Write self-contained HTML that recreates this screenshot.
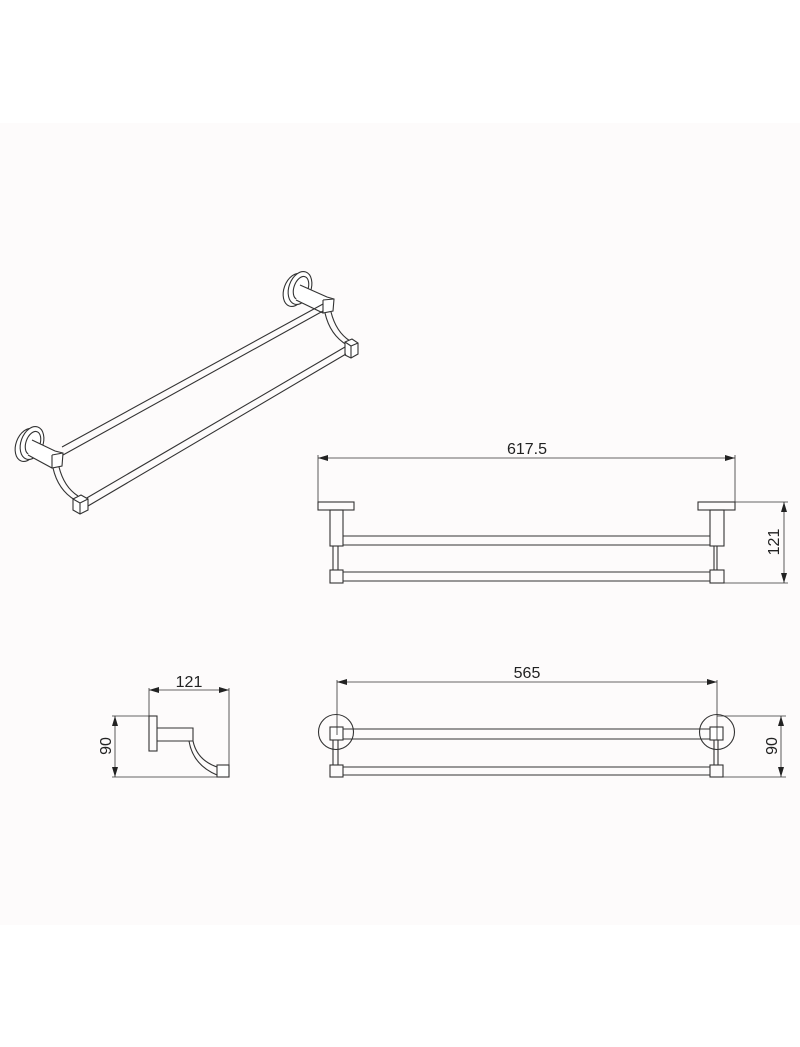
<!DOCTYPE html>
<html><head><meta charset="utf-8"><style>
html,body{margin:0;padding:0;background:#fff;}
svg{display:block;}
text{font-family:"Liberation Sans",sans-serif;font-size:16px;fill:#222;}
</style></head><body>
<svg width="800" height="1047" viewBox="0 0 800 1047" xmlns="http://www.w3.org/2000/svg">
<defs>
<marker id="a" viewBox="0 0 10 6" refX="10" refY="3" markerWidth="10" markerHeight="6" orient="auto-start-reverse" markerUnits="userSpaceOnUse"><path d="M0,0 L10,3 L0,6z" fill="#222"/></marker>
</defs>
<rect x="0" y="123" width="800" height="802" fill="#fdfbfb"/>
<g fill="none" stroke="#333" stroke-width="1.1">
<!-- ISO VIEW -->
<ellipse cx="295" cy="290" rx="11" ry="17" transform="rotate(20 295 290)" fill="#fff"/>
<ellipse cx="300" cy="288" rx="11" ry="17" transform="rotate(20 300 288)" fill="#fff"/>
<ellipse cx="301" cy="288" rx="7" ry="12" transform="rotate(20 301 288)"/>
<path d="M300,285 L327,297 L334,299 L333,311 L323,313 L296,300" fill="#fff"/>
<path d="M323,300 L334,299 M323,300 L323,313"/>
<path d="M325,313 Q330,335 347,345 M331,312 Q336,332 350,341"/>
<path d="M345,342 L352,339 L358,343 L358,354 L351,358 L345,355 Z" fill="#fff"/>
<path d="M345,342 L351,346 L358,343 M351,346 L351,358"/>
<path d="M323,304 L62,447 M323,311 L63,455"/>
<path d="M345,347 L85,499 M346,354 L88,506"/>
<ellipse cx="27" cy="445" rx="11" ry="17" transform="rotate(20 27 445)" fill="#fff"/>
<ellipse cx="32" cy="443" rx="11" ry="17" transform="rotate(20 32 443)" fill="#fff"/>
<ellipse cx="33" cy="443" rx="7" ry="12" transform="rotate(20 33 443)"/>
<path d="M32,440 L55,451 L63,453 L62,466 L52,468 L28,455" fill="#fff"/>
<path d="M52,455 L63,453 M52,455 L52,468"/>
<path d="M53,468 Q58,490 75,500 M59,467 Q64,487 78,496"/>
<path d="M73,499 L81,495 L88,499 L88,510 L80,514 L73,510 Z" fill="#fff"/>
<path d="M73,499 L80,503 L88,499 M80,503 L80,514"/>

<!-- FRONT VIEW -->
<rect x="318" y="502" width="36" height="8"/>
<rect x="698" y="502" width="37" height="8"/>
<rect x="330" y="510" width="13" height="36"/>
<rect x="710" y="510" width="14" height="36"/>
<path d="M343,536 L710,536 M343,545 L710,545"/>
<path d="M333,546 L333,570 M338,546 L338,570 M714,546 L714,570 M717,546 L717,570"/>
<rect x="330" y="570" width="13" height="13"/>
<rect x="710" y="570" width="14" height="13"/>
<path d="M343,572 L710,572 M343,581 L710,581"/>
<g stroke-width="0.8">
<path d="M318,455 L318,502 M735,455 L735,502"/>
<path d="M318,458 L735,458" marker-start="url(#a)" marker-end="url(#a)"/>
<path d="M735,502 L788,502 M724,583 L788,583"/>
<path d="M784,502 L784,583" marker-start="url(#a)" marker-end="url(#a)"/>
</g>

<!-- TOP VIEW -->
<circle cx="336" cy="732" r="17.5"/>
<circle cx="717" cy="732" r="17.5"/>
<rect x="330" y="727" width="13" height="13" fill="#fff"/>
<rect x="710" y="727" width="13" height="13" fill="#fff"/>
<path d="M343,729 L710,729 M343,739 L710,739"/>
<path d="M333,740 L333,765 M338,740 L338,765 M714,740 L714,765 M718,740 L718,765"/>
<rect x="330" y="765" width="13" height="12"/>
<rect x="710" y="765" width="13" height="12"/>
<path d="M343,767 L710,767 M343,775 L710,775"/>
<g stroke-width="0.8">
<path d="M337,680 L337,735 M717,680 L717,740"/>
<path d="M337,682 L717,682" marker-start="url(#a)" marker-end="url(#a)"/>
<path d="M717,716 L786,716 M723,777 L786,777"/>
<path d="M781,716 L781,777" marker-start="url(#a)" marker-end="url(#a)"/>
</g>

<!-- SIDE VIEW -->
<rect x="149" y="716" width="8" height="35"/>
<path d="M157,728 L193,728 L193,741 L157,741"/>
<path d="M189,741 Q193,765 217,775 M193,741 Q197,760 217,767"/>
<rect x="217" y="765" width="12" height="12" fill="#fff"/>
<g stroke-width="0.8">
<path d="M149,688 L149,716 M229,688 L229,765"/>
<path d="M149,690 L229,690" marker-start="url(#a)" marker-end="url(#a)"/>
<path d="M112,716 L149,716 M112,777 L217,777"/>
<path d="M115,716 L115,777" marker-start="url(#a)" marker-end="url(#a)"/>
</g>
</g>
<text x="527" y="454" text-anchor="middle">617.5</text>
<text x="527" y="678" text-anchor="middle">565</text>
<text x="189" y="687" text-anchor="middle">121</text>
<text transform="translate(779,542) rotate(-90)" text-anchor="middle">121</text>
<text transform="translate(777,746) rotate(-90)" text-anchor="middle">90</text>
<text transform="translate(111,746) rotate(-90)" text-anchor="middle">90</text>
</svg>
</body></html>
